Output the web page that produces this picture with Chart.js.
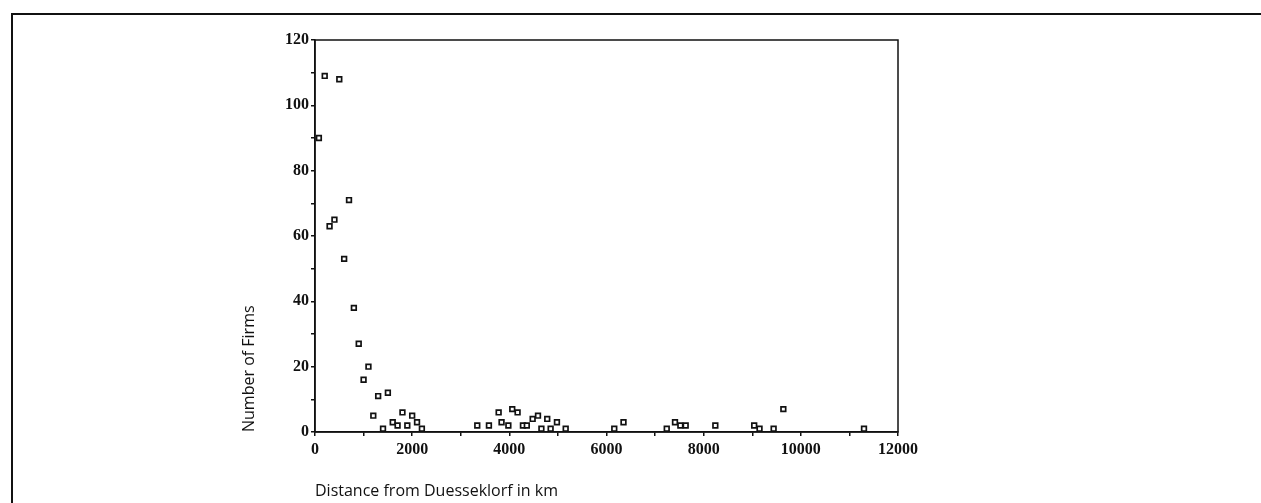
<!DOCTYPE html>
<html>
<head>
<meta charset="utf-8">
<script src="https://cdn.jsdelivr.net/npm/chart.js@4/dist/chart.umd.min.js"></script>
<style>
    html, body { margin: 0; padding: 0; background: #fff; }
    #wrap { position: relative; width: 1261px; height: 503px; }
    #frame { position: absolute; left: 11px; top: 13px; right: 0; bottom: 0;
             border-top: 2px solid #111; border-left: 2px solid #111; pointer-events: none; }
    #chart { position: absolute; left: 0; top: 0; }
</style>
</head>
<body>
<div id="wrap">
    <canvas id="chart" width="1261" height="503"></canvas>
    <div id="frame"></div>
</div>
<script>
// distance from Duesseldorf (km) and number of firms
const distances = [80, 200, 500, 300, 400, 700, 600, 800, 900, 1100, 1000, 1300, 1500, 1200,
    1800, 2000, 1600, 1700, 1900, 2100, 1400, 2200,
    3340, 3580, 3780, 3840, 3980, 4060, 4170, 4280, 4360, 4480, 4590, 4660, 4780, 4850, 4980, 5160,
    6160, 6350, 7240, 7410, 7520, 7630, 8240, 9040, 9150, 9440, 9640, 11300];
const firms = [90, 109, 108, 63, 65, 71, 53, 38, 27, 20, 16, 11, 12, 5,
    6, 5, 3, 2, 2, 3, 1, 1,
    2, 2, 6, 3, 2, 7, 6, 2, 2, 4, 5, 1, 4, 1, 3, 1,
    1, 3, 1, 3, 2, 2, 2, 2, 1, 1, 7, 1];

const xTicks = [0, 2000, 4000, 6000, 8000, 10000, 12000];
const yTicks = [0, 20, 40, 60, 80, 100, 120];

const xTitle = 'Distance from Duesseklorf in km';
const yTitle = 'Number of Firms';

const tickFont = { family: "'Liberation Serif', 'Times New Roman', serif", size: 16, weight: 'bold' };
const titleFont = { family: "'Open Sans', sans-serif", size: 16 };

// closes the plot box on the top and right
const boxPlugin = {
    id: 'box',
    afterDraw(chart) {
        const a = chart.chartArea;
        const ctx = chart.ctx;
        ctx.save();
        ctx.strokeStyle = '#111';
        ctx.lineWidth = 1.5;
        ctx.strokeRect(a.left, a.top, a.right - a.left, a.bottom - a.top);
        ctx.restore();
    }
};

const ctx = document.getElementById('chart').getContext('2d');
new Chart(ctx, {
    type: 'scatter',
    data: {
        datasets: [{
            data: distances.map((d, i) => ({ x: d, y: firms[i] })),
            pointStyle: 'rect',
            pointRadius: 3.3,
            pointBorderWidth: 1.7,
            pointBorderColor: '#111',
            pointBackgroundColor: '#fff'
        }]
    },
    options: {
        responsive: false,
        animation: false,
        layout: { padding: { left: 228, top: 40, right: 363, bottom: 0 } },
        plugins: { legend: { display: false }, tooltip: { enabled: false } },
        scales: {
            x: {
                type: 'linear',
                min: 0, max: 12000,
                afterFit: s => { s.height = 71; },
                afterBuildTicks: s => {
                    s.ticks = [];
                    for (let v = 0; v <= 12000; v += 1000) s.ticks.push({ value: v });
                },
                ticks: {
                    autoSkip: false, maxRotation: 0, padding: 4,
                    color: '#111', font: tickFont,
                    callback: v => xTicks.includes(v) ? String(v) : ''
                },
                grid: { drawOnChartArea: false, drawTicks: true, tickLength: 4, color: '#111', lineWidth: 1.5 },
                border: { display: true, color: '#111', width: 1.5 },
                title: { display: true, text: xTitle, align: 'start', color: '#111',
                         font: titleFont, padding: { top: 0, bottom: 2 } }
            },
            y: {
                type: 'linear',
                min: 0, max: 120,
                afterFit: s => { s.width = 315 - 228; },
                afterBuildTicks: s => {
                    s.ticks = [];
                    for (let v = 0; v <= 120; v += 10) s.ticks.push({ value: v });
                },
                ticks: {
                    autoSkip: false, padding: 2,
                    color: '#111', font: tickFont,
                    callback: v => yTicks.includes(v) ? String(v) : ''
                },
                grid: { drawOnChartArea: false, drawTicks: true, tickLength: 4, color: '#111', lineWidth: 1.5 },
                border: { display: true, color: '#111', width: 1.5 },
                title: { display: true, text: yTitle, align: 'start', color: '#111',
                         font: titleFont, padding: { top: 12, bottom: 0 } }
            }
        }
    },
    plugins: [boxPlugin]
});
</script>
</body>
</html>
